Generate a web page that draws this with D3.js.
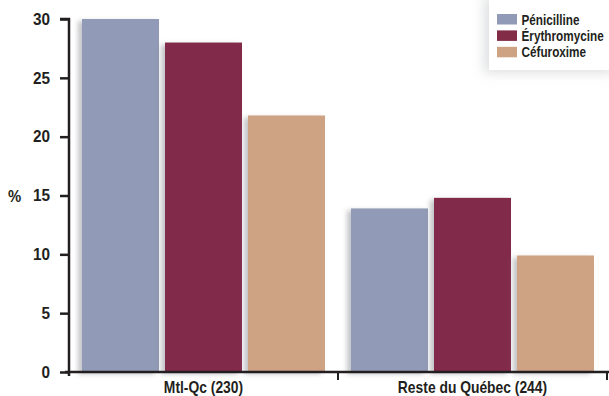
<!DOCTYPE html>
<html>
<head>
<meta charset="utf-8">
<script src="https://cdn.jsdelivr.net/npm/d3@7"></script>
<style>
  html, body { margin: 0; padding: 0; background: #fff; }
  svg { display: block; }
  text { font-family: "Liberation Sans", Arial, sans-serif; font-weight: bold; fill: #231f20; }
</style>
</head>
<body>
<svg id="chart" width="609" height="396"></svg>
<script>
// Antibiotic resistance by region (%)
const groups = ["Mtl-Qc (230)", "Reste du Québec (244)"];
const series = ["Pénicilline", "Érythromycine", "Céfuroxime"];
const penicilline = [30, 13.9];
const erythromycine = [28, 14.8];
const cefuroxime = [21.8, 9.9];
const yTicks = [0, 5, 10, 15, 20, 25, 30];
const colors = ["#919ab6", "#822c48", "#cda384"];

const values = [penicilline, erythromycine, cefuroxime];

const svg = d3.select("#chart");
const defs = svg.append("defs");

const barShadow = defs.append("filter").attr("id", "barShadow")
  .attr("x", "-20%").attr("y", "-10%").attr("width", "140%").attr("height", "120%");
barShadow.append("feDropShadow")
  .attr("dx", -4).attr("dy", 2).attr("stdDeviation", 2.5)
  .attr("flood-color", "#7a7f85").attr("flood-opacity", 0.45);

const boxShadow = defs.append("filter").attr("id", "boxShadow")
  .attr("x", "-40%").attr("y", "-40%").attr("width", "180%").attr("height", "180%");
boxShadow.append("feDropShadow")
  .attr("dx", -5).attr("dy", 3).attr("stdDeviation", 6)
  .attr("flood-color", "#8a8f95").attr("flood-opacity", 0.28);

// Squeeze text horizontally around its anchor x for a condensed look
function condense(sel, k) {
  sel.each(function () {
    const x = +(this.getAttribute("x") || 0);
    d3.select(this).attr("transform",
      `translate(${x},0) scale(${k},1) translate(${-x},0)`);
  });
}

const plot = { left: 69, right: 607, top: 19, bottom: 372 };

const y = d3.scaleLinear().domain([0, 30]).range([plot.bottom, plot.top]);
const x0 = d3.scaleBand().domain(groups).range([plot.left, plot.right]).padding(0);
const x1 = d3.scaleBand().domain(series).range([0, x0.bandwidth()])
  .paddingInner(6 / 83).paddingOuter(0.1566);

// Legend (drawn first so its soft shadow sits behind the bars)
const lg = svg.append("g").attr("transform", "translate(497,14)");
lg.append("rect").attr("x", -8).attr("y", -20).attr("width", 130).attr("height", 76)
  .attr("fill", "#fff").attr("filter", "url(#boxShadow)");

// Bars
const gBars = svg.append("g");
groups.forEach((g, gi) => {
  series.forEach((s, si) => {
    const v = values[si][gi];
    gBars.append("rect")
      .attr("x", x0(g) + x1(s))
      .attr("y", y(v))
      .attr("width", x1.bandwidth())
      .attr("height", y(0) - y(v))
      .attr("fill", colors[si])
      .attr("filter", "url(#barShadow)");
  });
});

// Y axis
const yAxis = d3.axisLeft(y).tickValues(yTicks).tickSize(9).tickPadding(10).tickFormat(d3.format("d"));
const gy = svg.append("g").attr("transform", `translate(${plot.left},0)`).call(yAxis);
gy.select(".domain").attr("stroke", "#231f20").attr("stroke-width", 2.5)
  .attr("d", `M-9,${plot.top}H0V${plot.bottom + 4}`);
gy.selectAll(".tick line").attr("stroke", "#231f20").attr("stroke-width", 2.5);
gy.selectAll(".tick text").attr("font-size", 16.5).attr("fill", "#231f20")
  .style("font-family", "'Liberation Sans', Arial, sans-serif").style("font-weight", "bold")
  .call(condense, 0.93);

// X axis
const gx = svg.append("g").attr("transform", `translate(0,${plot.bottom})`);
gx.append("line").attr("x1", plot.left - 4).attr("x2", 609)
  .attr("stroke", "#231f20").attr("stroke-width", 2.5);
const xBounds = [x0(groups[1]), plot.right];
gx.selectAll(".sep").data(xBounds).join("line")
  .attr("x1", d => d).attr("x2", d => d).attr("y1", 0).attr("y2", 8)
  .attr("stroke", "#231f20").attr("stroke-width", 2);
gx.selectAll(".lbl").data(groups).join("text")
  .attr("x", d => x0(d) + x0.bandwidth() / 2)
  .attr("y", 21)
  .attr("text-anchor", "middle")
  .attr("font-size", 16.5)
  .text(d => d)
  .call(condense, 0.84);

// Y label
svg.append("text").attr("x", 8).attr("y", 202)
  .attr("font-size", 16.5).text("%").call(condense, 0.9);

// Legend entries
series.forEach((s, i) => {
  lg.append("rect").attr("x", 0).attr("y", i * 16.4).attr("width", 20).attr("height", 10.5)
    .attr("fill", colors[i]);
  lg.append("text").attr("x", 24.5).attr("y", i * 16.4 + 10.5)
    .attr("font-size", 14).text(s).call(condense, 0.84);
});
</script>
</body>
</html>
